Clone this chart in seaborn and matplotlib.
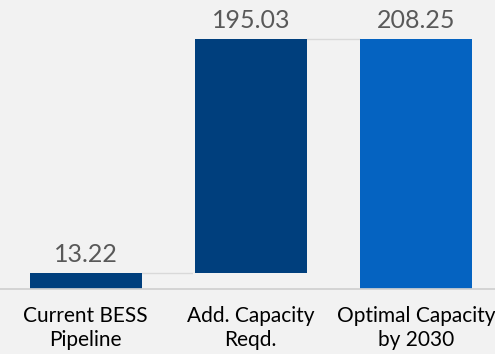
import matplotlib
matplotlib.use("Agg")
import matplotlib.pyplot as plt
import seaborn as sns
import pandas as pd

# waterfall data
categories = ["Current BESS\nPipeline", "Add. Capacity\nReqd.", "Optimal Capacity\nby 2030"]
values = [13.22, 195.03, 208.25]
bases = [0, 13.22, 0]
tops = [b + v for b, v in zip(bases, values)]
colors = ["#003f7d", "#003f7d", "#0563c1"]
bg = "#f2f2f2"

sns.set_theme(style="white")
plt.rcParams['font.family'] = ['Lato', 'DejaVu Sans']

df = pd.DataFrame({"cat": categories, "top": tops, "base": bases})

fig = plt.figure(figsize=(4.95, 3.54), dpi=100, facecolor=bg)
ax = fig.add_axes([0, 1 - 289 / 354, 1, 289 / 354])
ax.set_facecolor(bg)

sns.barplot(data=df, x="cat", y="top", hue="cat", palette=colors, legend=False,
            width=0.68, saturation=1, linewidth=0, ax=ax, zorder=2)
# hide the lower part of the floating bar
sns.barplot(data=df, x="cat", y="base", color=bg, width=0.70, saturation=1,
            linewidth=0, ax=ax, zorder=3)

# connector lines
ax.plot([0 + 0.34, 1 - 0.34], [tops[0], tops[0]], color="#d9d9d9", lw=1, zorder=1)
ax.plot([1 + 0.34, 2 - 0.34], [tops[1], tops[1]], color="#d9d9d9", lw=1, zorder=1)

for i, (v, t) in enumerate(zip(values, tops)):
    ax.text(i, t + 6, f"{v:.2f}", ha="center", va="bottom", fontsize=18,
            color="#595959", zorder=4)

ax.set_xlim(-0.52, 2.48)
ax.set_ylim(0, 240.8)
ax.set_xlabel("")
ax.set_ylabel("")
ax.set_yticks([])
ax.tick_params(axis="x", length=0, pad=12, labelsize=15, colors="black")
for lab in ax.get_xticklabels():
    lab.set_linespacing(1.3)
for s in ["top", "left", "right"]:
    ax.spines[s].set_visible(False)
ax.spines["bottom"].set_color("#d0d0d0")
ax.spines["bottom"].set_zorder(5)

fig.savefig("out.png", dpi=100, facecolor=bg)
